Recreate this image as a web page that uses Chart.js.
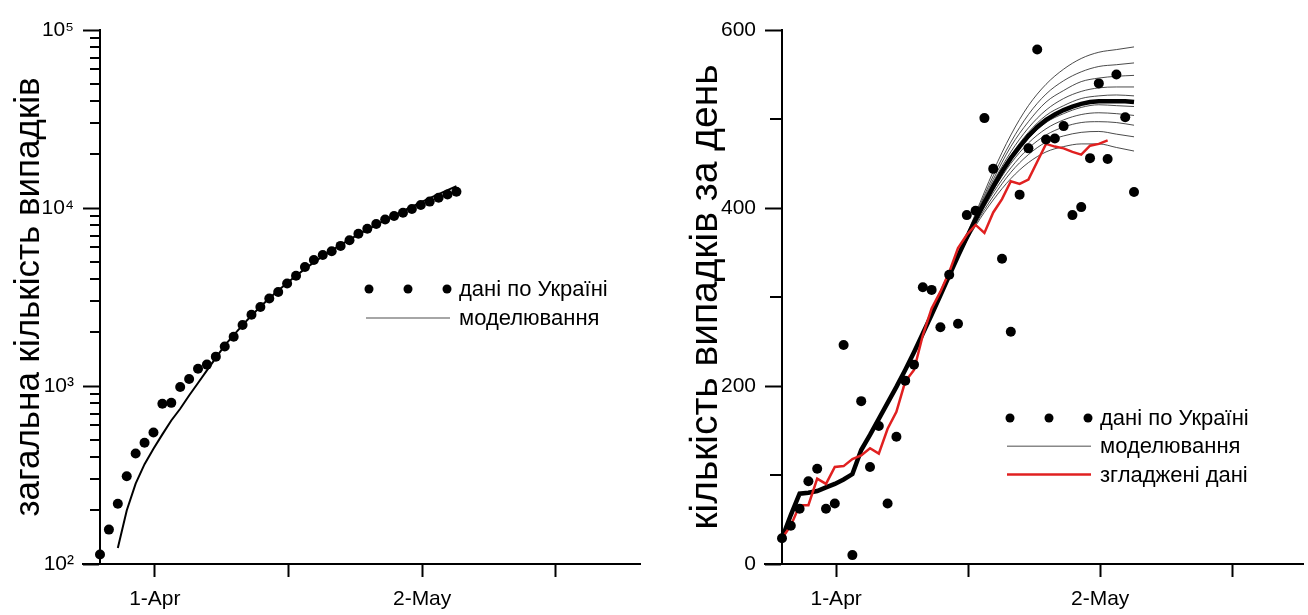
<!DOCTYPE html>
<html>
<head>
<meta charset="utf-8">
<script src="https://cdn.jsdelivr.net/npm/chart.js@4.4.1/dist/chart.umd.min.js"></script>
<style>
  html, body { margin: 0; padding: 0; background: #fff; }
  #wrap { position: relative; width: 1308px; height: 615px; }
  canvas { position: absolute; top: 0; }
  #totalChart { left: 0; }
  #dailyChart { left: 654px; }
</style>
</head>
<body>
<div id="wrap">
  <canvas id="totalChart" width="654" height="615"></canvas>
  <canvas id="dailyChart" width="654" height="615"></canvas>
</div>
<script>
// x is the day number, day 0 = first observation
const tickDays = [6.15, 21.15, 36.15, 51.15];
const tickLabels = ['1-Apr', '', '2-May', ''];

// cumulative cases (left panel)
const totalCases = [113, 156, 218, 311, 418, 480, 548, 794, 804, 987, 1096, 1251, 1319, 1462, 1668,
  1892, 2203, 2511, 2777, 3102, 3372, 3764, 4161, 4662, 5106, 5449, 5710, 6125, 6592, 7170,
  7647, 8125, 8617, 9009, 9410, 9866, 10406, 10861, 11411, 11913, 12331];
const totalModelStart = 2;
const totalModel = [123, 200, 283, 364, 444, 535, 640, 745, 885, 1040, 1225, 1440, 1690, 1930,
  2200, 2490, 2790, 3110, 3440, 3790, 4160, 4550, 4950, 5360, 5780, 6210, 6650, 7100, 7570,
  8050, 8560, 9080, 9620, 10180, 10760, 11360, 11970, 12600, 13250];
const logMajor = [100, 1000, 10000, 100000];
const logMajorLabels = ['10²', '10³', '10⁴', '10⁵'];

// daily cases (right panel)
const dailyCases = [29, 43, 62, 93, 107, 62, 68, 246, 10, 183, 109, 155, 68, 143, 206, 224, 311,
  308, 266, 325, 270, 392, 397, 501, 444, 343, 261, 415, 467, 578, 477, 478, 492, 392, 401,
  456, 540, 455, 550, 502, 418];
const dailyModel = [29, 55, 79, 80, 82, 86, 90, 95, 101, 128, 145, 163, 181, 199, 218, 238, 259,
  280, 302, 324, 346, 367, 387, 406, 424, 441, 456, 469, 481, 491, 499, 505, 510, 514, 517,
  519, 520, 520, 520, 520, 519];
const smoothed = [29, 43, 66, 66, 96, 90, 109, 110, 118, 122, 130, 124, 152, 171, 205, 218, 257,
  287, 306, 328, 355, 370, 381, 372, 395, 410, 430, 427, 432, 452, 472, 469, 467, 463, 460,
  470, 472, 476];
const fanDays = [20, 22, 24, 26, 28, 30, 32, 34, 36, 38, 40];
const fanRuns = [
  [347, 394, 441, 482, 515, 539, 556, 568, 575, 578, 581],
  [347, 392, 436, 474, 505, 528, 543, 553, 559, 561, 563],
  [347, 391, 432, 469, 497, 519, 532, 542, 546, 548, 549],
  [346, 389, 429, 463, 490, 510, 523, 531, 535, 536, 536],
  [346, 388, 426, 459, 485, 504, 515, 523, 526, 527, 526],
  [346, 386, 423, 454, 478, 496, 506, 513, 516, 515, 514],
  [346, 385, 420, 450, 473, 489, 499, 505, 507, 506, 504],
  [345, 384, 417, 445, 467, 482, 491, 496, 497, 496, 493],
  [345, 382, 413, 440, 460, 474, 481, 485, 486, 483, 480],
  [345, 380, 409, 433, 451, 463, 469, 472, 472, 468, 464]
];
const dailyTickValues = [0, 100, 200, 300, 400, 500, 600];
const dailyTickLabels = ['0', '', '200', '', '400', '', '600'];

const FONT = '"Liberation Sans", Arial, sans-serif';
Chart.defaults.font.family = FONT;
Chart.defaults.color = '#000';

const toPoints = (vals, start) => vals.map((v, i) => ({ x: i + (start || 0), y: v }));

// x axis line runs a bit past the y axis, minor y ticks are shorter
function axisExtras(isMajor, minorLen) {
  return {
    id: 'axisExtras',
    afterDraw(chart) {
      const ctx = chart.ctx;
      const { left, bottom } = chart.chartArea;
      const ys = chart.scales.y;
      ctx.save();
      ctx.strokeStyle = '#000';
      ctx.lineWidth = 2;
      ctx.beginPath();
      ctx.moveTo(left - 18, Math.round(bottom));
      ctx.lineTo(left, Math.round(bottom));
      ctx.stroke();
      ys.ticks.forEach(t => {
        if (isMajor(t.value)) return;
        const py = Math.round(ys.getPixelForValue(t.value));
        ctx.beginPath();
        ctx.moveTo(left - minorLen, py);
        ctx.lineTo(left, py);
        ctx.stroke();
      });
      ctx.restore();
    }
  };
}

function insideLegend(x0, y0, gap, items) {
  return {
    id: 'insideLegend',
    afterDraw(chart) {
      const ctx = chart.ctx;
      ctx.save();
      ctx.font = '22px ' + FONT;
      ctx.textBaseline = 'middle';
      items.forEach((it, i) => {
        const y = y0 + i * gap;
        if (it.dots) {
          ctx.fillStyle = '#000';
          [3, 42, 81].forEach(dx => {
            ctx.beginPath();
            ctx.arc(x0 + dx, y, 4.5, 0, Math.PI * 2);
            ctx.fill();
          });
        } else {
          ctx.strokeStyle = it.color;
          ctx.lineWidth = it.width;
          ctx.beginPath();
          ctx.moveTo(x0, y);
          ctx.lineTo(x0 + 84, y);
          ctx.stroke();
        }
        ctx.fillStyle = '#000';
        ctx.fillText(it.label, x0 + 93, y + 1);
      });
      ctx.restore();
    }
  };
}

function xAxis(max) {
  return {
    type: 'linear', min: 0, max: max,
    afterBuildTicks: s => { s.ticks = tickDays.map(v => ({ value: v })); },
    afterFit: s => { s.height = 51; },
    grid: { drawOnChartArea: false, tickLength: 13, tickWidth: 2, tickColor: '#000' },
    border: { color: '#000', width: 2 },
    ticks: { autoSkip: false, maxRotation: 0, padding: 10, font: { size: 21 }, color: '#000',
      callback: (v, i) => tickLabels[i] }
  };
}

const baseOptions = {
  responsive: false, animation: false, events: [], devicePixelRatio: 1,
  plugins: { legend: { display: false }, tooltip: { enabled: false } }
};

// left: total cases, log scale
const logTicks = [];
logMajor.forEach((d, k) => {
  logTicks.push(d);
  if (k < logMajor.length - 1) for (let m = 2; m <= 9; m++) logTicks.push(d * m);
});
const isLogMajor = v => logMajor.includes(v);

new Chart(document.getElementById('totalChart'), {
  type: 'scatter',
  data: {
    datasets: [
      { label: 'дані по Україні', data: toPoints(totalCases), pointRadius: 5,
        pointBackgroundColor: '#000', pointBorderWidth: 0, showLine: false, clip: false },
      { label: 'моделювання', data: toPoints(totalModel, totalModelStart), showLine: true,
        pointRadius: 0, borderColor: '#000', borderWidth: 2, clip: false }
    ]
  },
  options: Object.assign({}, baseOptions, {
    layout: { padding: { top: 30, right: 14, bottom: 0, left: 0 } },
    scales: {
      x: xAxis(60.6),
      y: {
        type: 'logarithmic', min: 100, max: 100000,
        afterBuildTicks: s => { s.ticks = logTicks.map(v => ({ value: v, major: isLogMajor(v) })); },
        afterFit: s => { s.width = 100; },
        grid: { drawOnChartArea: false, tickLength: 17, tickWidth: 2,
          tickColor: c => (c.tick && isLogMajor(c.tick.value)) ? '#000' : 'rgba(0,0,0,0)' },
        border: { color: '#000', width: 2 },
        ticks: { autoSkip: false, padding: 9, font: { size: 21 }, color: '#000',
          callback: v => { const k = logMajor.indexOf(v); return k >= 0 ? logMajorLabels[k] : ''; } },
        title: { display: true, text: 'загальна кількість випадків', color: '#000',
          font: { size: 35 }, padding: { top: 8, bottom: 0 } }
      }
    }
  }),
  plugins: [
    axisExtras(isLogMajor, 10),
    insideLegend(366, 289, 29, [
      { dots: true, label: 'дані по Україні' },
      { color: '#888', width: 1.5, label: 'моделювання' }
    ])
  ]
});

// right: daily cases
const isDailyMajor = v => dailyTickLabels[dailyTickValues.indexOf(v)] !== '';
const fanSets = fanRuns.map(run => ({
  data: run.map((v, i) => ({ x: fanDays[i], y: v })), showLine: true, pointRadius: 0,
  borderColor: 'rgba(30,30,30,0.8)', borderWidth: 1, cubicInterpolationMode: 'monotone', clip: false
}));

new Chart(document.getElementById('dailyChart'), {
  type: 'scatter',
  data: {
    datasets: [
      { label: 'дані по Україні', data: toPoints(dailyCases), pointRadius: 5,
        pointBackgroundColor: '#000', pointBorderWidth: 0, showLine: false, clip: false },
      { label: 'згладжені дані', data: toPoints(smoothed), showLine: true, pointRadius: 0,
        borderColor: '#e02020', borderWidth: 2.5, clip: false },
      { label: 'моделювання', data: toPoints(dailyModel), showLine: true, pointRadius: 0,
        borderColor: '#000', borderWidth: 4.5, clip: false }
    ].concat(fanSets)
  },
  options: Object.assign({}, baseOptions, {
    layout: { padding: { top: 30, right: 0, bottom: 0, left: 0 } },
    scales: {
      x: xAxis(59.2),
      y: {
        type: 'linear', min: 0, max: 600,
        afterBuildTicks: s => { s.ticks = dailyTickValues.map(v => ({ value: v })); },
        afterFit: s => { s.width = 128; },
        grid: { drawOnChartArea: false, tickLength: 17, tickWidth: 2,
          tickColor: c => (c.tick && isDailyMajor(c.tick.value)) ? '#000' : 'rgba(0,0,0,0)' },
        border: { color: '#000', width: 2 },
        ticks: { autoSkip: false, padding: 9, font: { size: 21 }, color: '#000',
          callback: v => dailyTickLabels[dailyTickValues.indexOf(v)] },
        title: { display: true, text: 'кількість випадків за день', color: '#000',
          font: { size: 39 }, padding: { top: 29, bottom: 0 } }
      }
    }
  }),
  plugins: [
    axisExtras(isDailyMajor, 12),
    insideLegend(353, 418, 28.3, [
      { dots: true, label: 'дані по Україні' },
      { color: '#888', width: 1.5, label: 'моделювання' },
      { color: '#e02020', width: 2.5, label: 'згладжені дані' }
    ])
  ]
});
</script>
</body>
</html>
